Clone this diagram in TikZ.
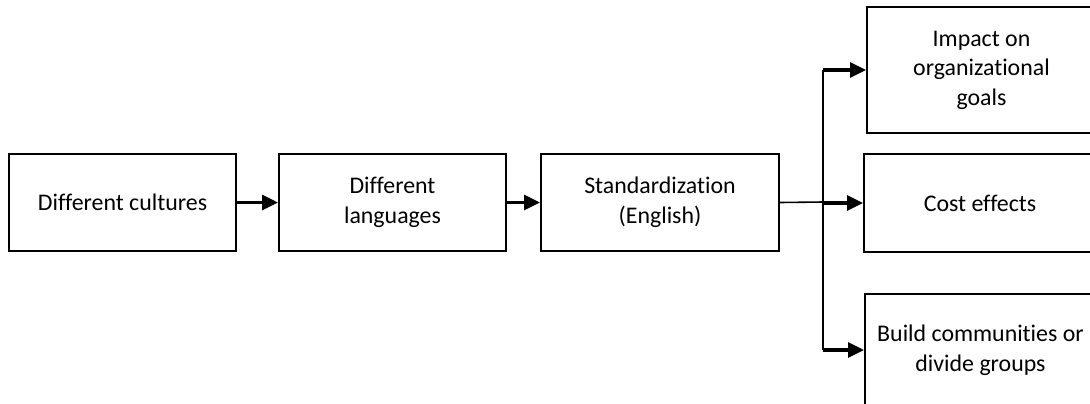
\documentclass[tikz,border=0pt]{standalone}
\usepackage{fontspec}
\setmainfont{Carlito}[Ligatures=NoCommon]
\usetikzlibrary{arrows.meta}
\tikzset{
  box/.style={draw,line width=0.9pt,align=center,inner sep=0pt,
    font=\fontsize{10.5}{13}\selectfont},
  flow/.style={line width=1.4pt,-{Triangle[length=7pt,width=6.5pt]}}
}
\begin{document}
\begin{tikzpicture}[x=0.44pt,y=-0.44pt]
\useasboundingbox (0,0) rectangle (1090,403);
\begin{scope}
\clip (0,0) rectangle (1090,403);
\node[box,minimum width=227*0.44pt,minimum height=97*0.44pt] (cult) at (122.5,202.5) {Different cultures};
\node[box,minimum width=227*0.44pt,minimum height=97*0.44pt] (lang) at (392.5,202.5) {Different\\languages};
\node[box,minimum width=238*0.44pt,minimum height=97*0.44pt] (std) at (660,202.5) {Standardization\\(English)};
\node[box,minimum width=229*0.44pt,minimum height=126*0.44pt] (goal) at (981.5,70) {Impact on\\organizational\\goals};
\node[box,minimum width=232*0.44pt,minimum height=98*0.44pt] (cost) at (980,203) {Cost effects};
\node[box,minimum width=231*0.44pt,minimum height=112*0.44pt] (comm) at (980.5,350) {Build communities or\\divide groups};
\end{scope}
\coordinate (bus) at (823,202);
\draw[flow] (cult) -- (lang);
\draw[flow] (lang) -- (std);
\draw[line width=0.7pt] (std.east) -- (bus);
\draw[line width=0.9pt] (bus |- goal.west) -- (bus |- comm.west);
\draw[flow] (bus |- goal.west) -- (goal.west);
\draw[flow] (bus |- cost.west) -- (cost.west);
\draw[flow] (bus |- comm.west) -- (comm.west);
\end{tikzpicture}
\end{document}
